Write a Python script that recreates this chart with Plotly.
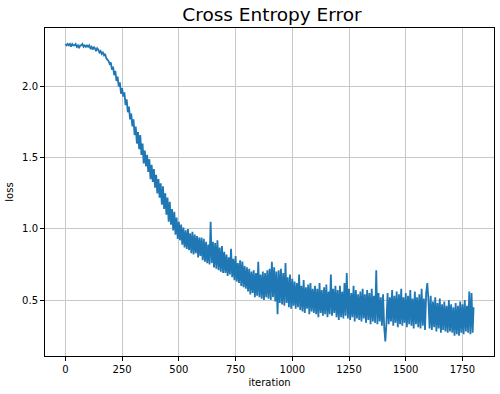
import plotly.graph_objects as go

iterations = list(range(0, 1800, 5)) + [1799]

loss = [
    # 0-95
    2.30, 2.29, 2.30, 2.29, 2.30, 2.28, 2.30, 2.29, 2.29, 2.30, 2.28, 2.29, 2.27, 2.29, 2.29, 2.30, 2.28, 2.29, 2.28, 2.29,
    # 100-195
    2.28, 2.29, 2.27, 2.28, 2.26, 2.28, 2.27, 2.25, 2.27, 2.26, 2.24, 2.25, 2.23, 2.24, 2.22, 2.23, 2.20, 2.19, 2.18, 2.16,
    # 200-295
    2.17, 2.12, 2.14, 2.08, 2.11, 2.04, 2.07, 2.00, 2.03, 1.95, 1.99, 1.93, 1.96, 1.87, 1.91, 1.82, 1.86, 1.77, 1.81, 1.72,
    # 300-395
    1.77, 1.66, 1.72, 1.60, 1.68, 1.56, 1.66, 1.52, 1.60, 1.46, 1.55, 1.44, 1.52, 1.40, 1.49, 1.35, 1.45, 1.33, 1.42, 1.29,
    # 400-495
    1.38, 1.25, 1.35, 1.22, 1.32, 1.17, 1.30, 1.14, 1.25, 1.10, 1.22, 1.05, 1.19, 1.03, 1.14, 0.99, 1.12, 0.96, 1.08, 0.93,
    # 500-595
    1.05, 0.92, 1.03, 0.89, 1.01, 0.87, 0.99, 0.86, 1.00, 0.85, 0.97, 0.83, 0.98, 0.82, 0.96, 0.83, 0.95, 0.80, 0.94, 0.81,
    # 600-695
    0.94, 0.78, 0.93, 0.77, 0.91, 0.76, 0.89, 0.75, 1.05, 0.76, 0.91, 0.73, 0.90, 0.72, 0.92, 0.71, 0.87, 0.70, 0.88, 0.69,
    # 700-795
    0.84, 0.69, 0.82, 0.67, 0.80, 0.68, 0.86, 0.66, 0.79, 0.64, 0.81, 0.63, 0.76, 0.62, 0.78, 0.60, 0.77, 0.59, 0.74, 0.58,
    # 800-895
    0.73, 0.56, 0.72, 0.54, 0.70, 0.55, 0.71, 0.52, 0.69, 0.53, 0.77, 0.52, 0.68, 0.51, 0.70, 0.50, 0.69, 0.52, 0.71, 0.51,
    # 900-995
    0.72, 0.50, 0.77, 0.52, 0.73, 0.49, 0.70, 0.40, 0.71, 0.48, 0.72, 0.47, 0.69, 0.46, 0.76, 0.48, 0.66, 0.45, 0.68, 0.44,
    # 1000-1095
    0.65, 0.46, 0.63, 0.44, 0.62, 0.45, 0.68, 0.43, 0.60, 0.42, 0.64, 0.41, 0.59, 0.44, 0.61, 0.40, 0.62, 0.42, 0.58, 0.41,
    # 1100-1195
    0.60, 0.40, 0.58, 0.38, 0.62, 0.41, 0.57, 0.39, 0.59, 0.40, 0.61, 0.38, 0.56, 0.40, 0.68, 0.39, 0.58, 0.41, 0.60, 0.38,
    # 1200-1295
    0.57, 0.36, 0.60, 0.38, 0.56, 0.37, 0.62, 0.39, 0.69, 0.37, 0.58, 0.36, 0.55, 0.38, 0.60, 0.35, 0.57, 0.37, 0.54, 0.36,
    # 1300-1395
    0.56, 0.35, 0.58, 0.37, 0.54, 0.34, 0.57, 0.36, 0.55, 0.33, 0.58, 0.35, 0.53, 0.34, 0.71, 0.33, 0.55, 0.35, 0.52, 0.32,
    # 1400-1495
    0.54, 0.31, 0.21, 0.34, 0.55, 0.33, 0.52, 0.35, 0.57, 0.32, 0.53, 0.34, 0.56, 0.31, 0.54, 0.33, 0.58, 0.32, 0.52, 0.34,
    # 1500-1595
    0.55, 0.31, 0.53, 0.33, 0.57, 0.32, 0.51, 0.30, 0.56, 0.33, 0.52, 0.31, 0.54, 0.30, 0.58, 0.32, 0.51, 0.29, 0.55, 0.62,
    # 1600-1695
    0.50, 0.30, 0.53, 0.29, 0.49, 0.31, 0.52, 0.28, 0.48, 0.30, 0.51, 0.27, 0.47, 0.29, 0.49, 0.28, 0.46, 0.27, 0.50, 0.28,
    # 1700-1799
    0.47, 0.27, 0.45, 0.25, 0.48, 0.26, 0.46, 0.25, 0.49, 0.27, 0.47, 0.26, 0.50, 0.28, 0.46, 0.27, 0.56, 0.26, 0.55, 0.27, 0.45,
]

x_ticks = [0, 250, 500, 750, 1000, 1250, 1500, 1750]
y_ticks = [0.5, 1.0, 1.5, 2.0]
y_tick_labels = ["0.5", "1.0", "1.5", "2.0"]

title_text = "Cross Entropy Error"
x_label = "iteration"
y_label = "loss"

font_family = "DejaVu Sans"

fig = go.Figure()
fig.add_trace(go.Scatter(
    x=iterations, y=loss, mode="lines",
    line=dict(color="#1f77b4", width=1.8, simplify=False),
    showlegend=False, hoverinfo="skip",
))

axis_common = dict(
    showgrid=True, gridcolor="#c8c8c8", gridwidth=1,
    showline=True, linecolor="black", linewidth=1, mirror=True,
    ticks="outside", ticklen=4, tickcolor="black", tickwidth=1,
    zeroline=False, automargin=False,
    tickfont=dict(family=font_family, size=10, color="black"),
)

fig.update_layout(
    width=500, height=394,
    margin=dict(l=45, r=6, t=28, b=38, autoexpand=False),
    paper_bgcolor="white", plot_bgcolor="white",
    font=dict(family=font_family, color="black"),
    title=dict(
        text=title_text, x=0.544, xanchor="center",
        yref="container", y=(394 - 14.5) / 394, yanchor="middle",
        font=dict(family=font_family, size=18.5, color="black"),
    ),
    xaxis=dict(
        range=[-90, 1889], tickmode="array", tickvals=x_ticks,
        title=dict(text=x_label, standoff=4, font=dict(family=font_family, size=10)),
        **axis_common,
    ),
    yaxis=dict(
        range=[0.107, 2.412], tickmode="array", tickvals=y_ticks, ticktext=y_tick_labels,
        title=dict(text=y_label, standoff=6, font=dict(family=font_family, size=10)),
        **axis_common,
    ),
)

fig.write_html(
    "out.html",
    config={"displayModeBar": False},
    post_script="document.body.style.margin='0';document.body.style.overflow='hidden';",
)
